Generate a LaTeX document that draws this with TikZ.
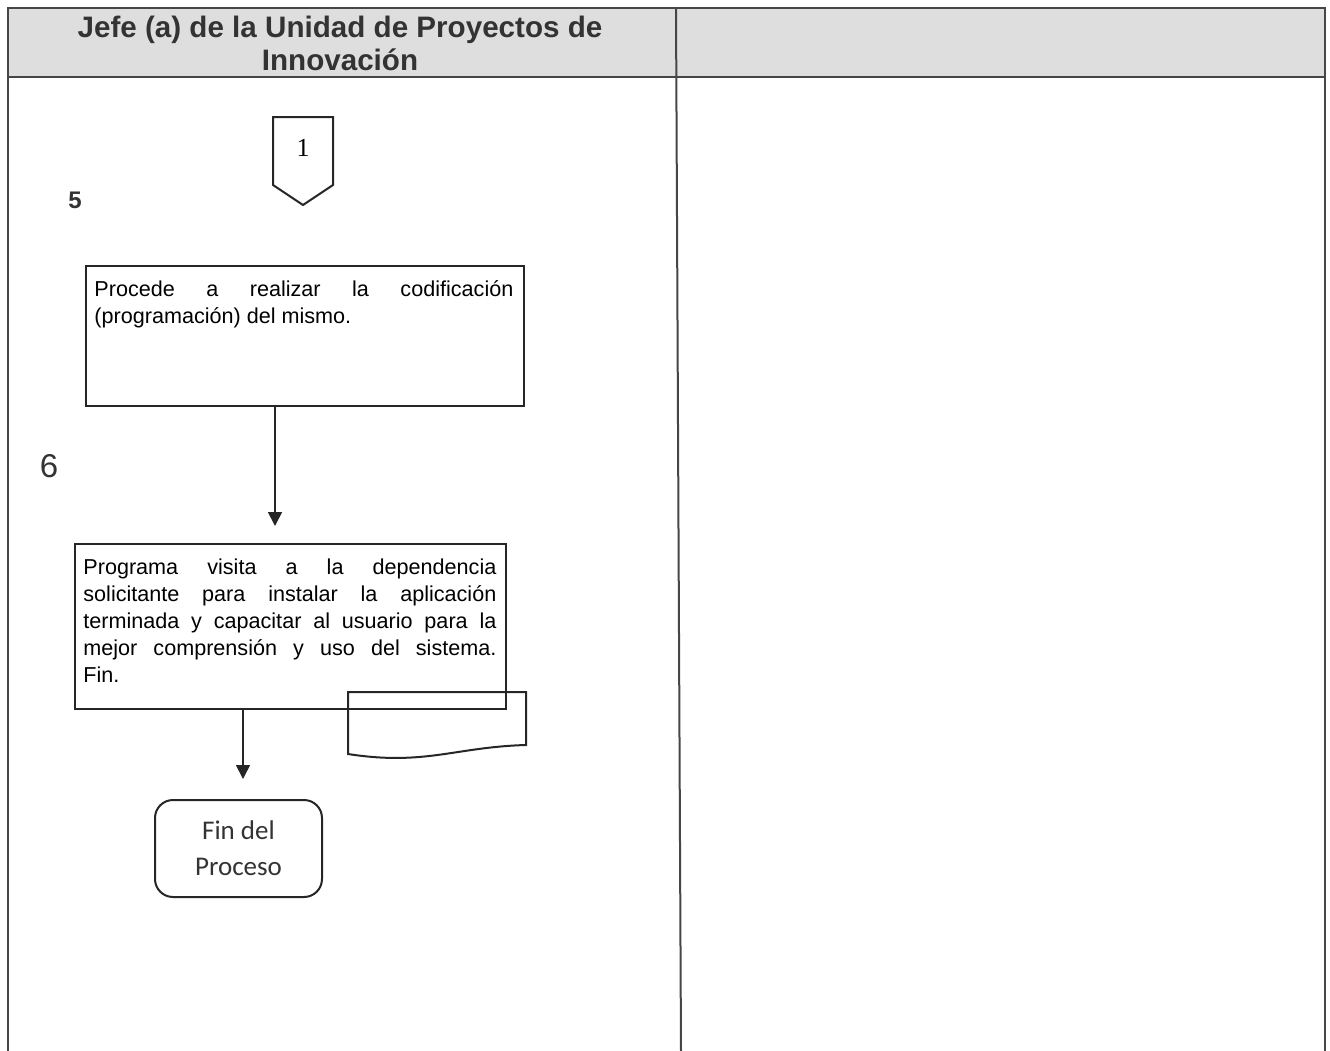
\documentclass[tikz,border=0pt]{standalone}
\usepackage{fontspec}
\setmainfont{Liberation Sans}
\newfontfamily\calibrifont{Carlito}
\newfontfamily\numfont{Liberation Serif}
\usetikzlibrary{arrows.meta, positioning}

\definecolor{headgray}{RGB}{222,222,222}
\definecolor{linegray}{RGB}{70,70,70}

\tikzset{
    lane/.style={line width=1pt, draw=linegray},
    procbox/.style={draw=black!85, line width=1pt, inner sep=0pt},
    proctext/.style={text width=#1, align=justify, inner sep=0pt,
        font=\fontsize{10.8}{13.5}\selectfont},
    flow/.style={line width=0.8pt, draw=black!85, -{Triangle[length=7pt,width=7pt]}},
}

\begin{document}
\begin{tikzpicture}[x=0.5pt,y=-0.5pt]
    \useasboundingbox (0,0) rectangle (1330,1051);

    % Swimlane header
    \fill[headgray] (8,8) rectangle (1325,77);
    \draw[lane] (8,1051) -- (8,8) -- (1325,8) -- (1325,1051);
    \draw[lane] (8,77) -- (1325,77);
    \draw[lane] (676,8) -- (681,1051);
    \node[font=\bfseries\fontsize{14.8}{16.5}\selectfont, align=center, text=black!80] (lane1) at (340,43)
        {Jefe (a) de la Unidad de Proyectos de\\Innovación};

    % Off-page connector
    \draw[line width=1pt, draw=black!85] (273,117) -- (333,117) -- (333,185) -- (303,205) -- (273,185) -- cycle;
    \node[font=\numfont\fontsize{13}{15}\selectfont] (conn1) at (303,148) {1};

    % Step numbers
    \node[font=\bfseries\fontsize{12}{14}\selectfont, text=black!80] (n5) at (75,200) {5};
    \node[font=\fontsize{16.5}{18}\selectfont, text=black!80] (n6) at (49,466) {6};

    % Step 5
    \node[procbox, minimum width=219pt, minimum height=70pt] (p5) at (305,336) {};
    \node[proctext=209.5pt, anchor=north west] (t5) at ([xshift=4.5pt,yshift=-7.5pt]p5.north west)
        {Procede a realizar la codificación\linebreak (programación) del mismo.};

    % Step 6
    \node[procbox, minimum width=215.5pt, minimum height=82.5pt] (p6) at (290.5,626.5) {};
    \node[proctext=206.5pt, anchor=north west] (t6) at ([xshift=4.5pt,yshift=-7.5pt]p6.north west)
        {Programa visita a la dependencia\linebreak solicitante para instalar la aplicación\linebreak
         terminada y capacitar al usuario para la\linebreak mejor comprensión y uso del sistema.\linebreak Fin.};

    % Document
    \draw[line width=1pt, draw=black!85] (348,692) -- (526,692) -- (526,745)
        .. controls (455,747) and (425,766) .. (348,754) -- cycle;

    % End
    \node[draw=black!85, line width=1pt, rounded corners=9pt, minimum width=83.5pt, minimum height=48.5pt,
        align=center, font=\calibrifont\fontsize{13.5}{18}\selectfont, text=black!80] (fin) at (238.5,848.5)
        {Fin del\\Proceso};

    % Connectors
    \draw[flow, shorten >=8.5pt] (p5.south -| 275,0) -- (p6.north -| 275,0);
    \draw[flow, shorten >=10pt] (p6.south -| 243,0) -- (fin.north -| 243,0);
\end{tikzpicture}
\end{document}
